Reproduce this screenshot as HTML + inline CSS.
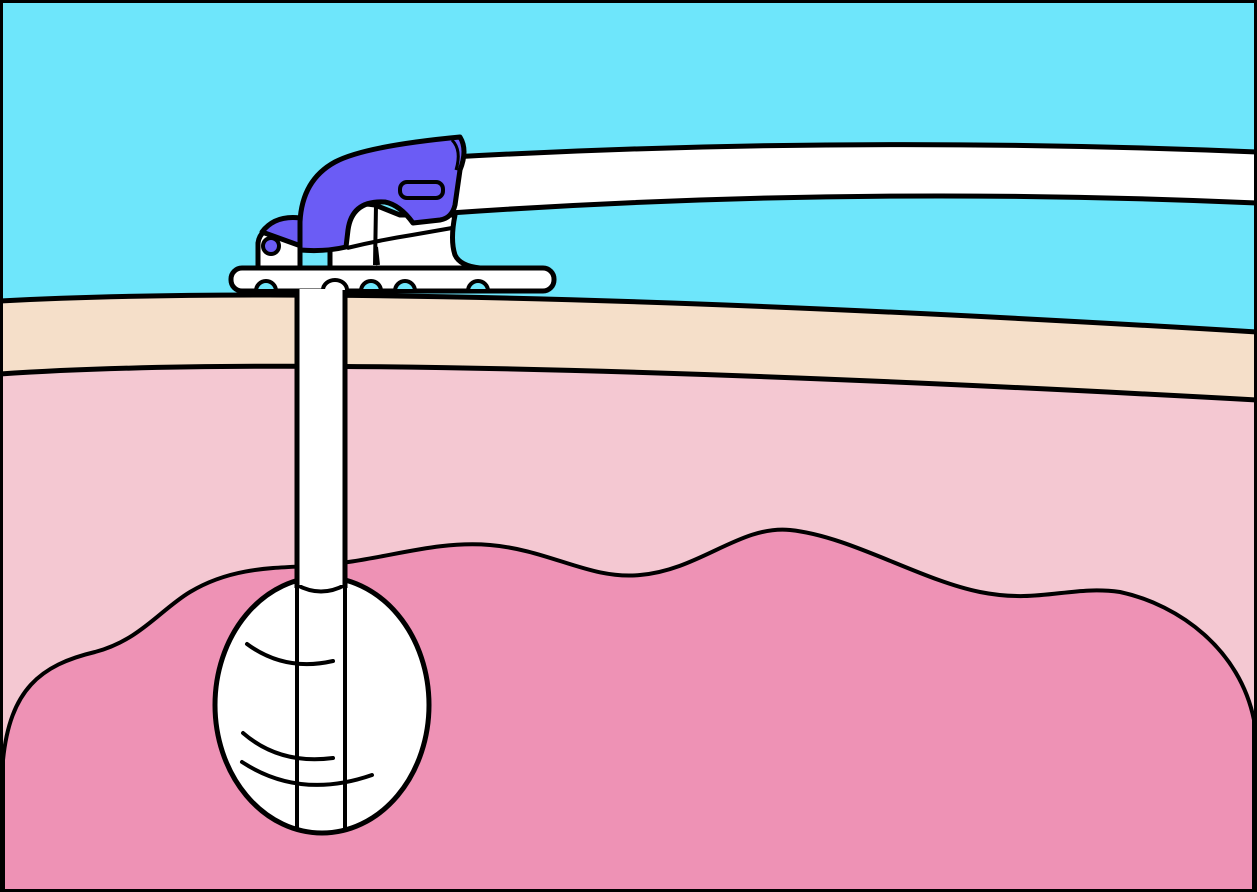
<!DOCTYPE html>
<html><head><meta charset="utf-8"><style>html,body{margin:0;padding:0;background:#fff}svg{display:block}</style></head>
<body>
<svg width="1257" height="892" viewBox="0 0 1257 892" xmlns="http://www.w3.org/2000/svg">
<defs><clipPath id="bal"><ellipse cx="322" cy="705" rx="107" ry="128"/></clipPath></defs>
<rect x="0" y="0" width="1257" height="892" fill="#6ee6fb"/>
<path d="M0 301 Q400 280 1257 332 L1257 892 L0 892 Z" fill="#f5dfc9"/>
<path d="M0 374 Q350 350 1257 400 L1257 892 L0 892 Z" fill="#f4c8d2"/>
<path d="M0 301 Q400 280 1257 332" fill="none" stroke="#000" stroke-width="5"/>
<path d="M0 374 Q350 350 1257 400" fill="none" stroke="#000" stroke-width="5"/>
<path d="M3 760 C10 690 40 665 95 652 C140 640 160 610 190 592 C230 568 270 568 310 566 C380 562 430 540 490 545 C550 550 590 580 640 575 C700 570 740 525 790 530 C850 536 920 580 980 592 C1040 604 1070 585 1120 592 C1180 605 1240 650 1254 720 L1254 892 L3 892 Z" fill="#ee92b5" stroke="#000" stroke-width="4"/>
<path d="M452 157 Q850 135 1257 152 L1257 203 Q850 185 450 213 Z" fill="#fff" stroke="#000" stroke-width="5"/>
<rect x="297" y="283" width="48" height="310" fill="#fff" stroke="#000" stroke-width="5"/>
<ellipse cx="322" cy="705" rx="107" ry="128" fill="#fff" stroke="#000" stroke-width="5"/>
<g clip-path="url(#bal)">
<path d="M297 570 L297 840 M345 570 L345 840" stroke="#000" stroke-width="4" fill="none"/>
</g>
<path d="M297 585 Q321 598 345 585" fill="none" stroke="#000" stroke-width="4"/>
<rect x="299.5" y="560" width="43" height="25" fill="#fff"/>
<path d="M297 560 L297 588 M345 560 L345 588" stroke="#000" stroke-width="5"/>
<path d="M247 644 Q285 672 333 661" fill="none" stroke="#000" stroke-width="4" stroke-linecap="round"/>
<path d="M243 733 Q280 765 333 758" fill="none" stroke="#000" stroke-width="4" stroke-linecap="round"/>
<path d="M242 762 Q300 800 372 775" fill="none" stroke="#000" stroke-width="4" stroke-linecap="round"/>
<!-- device body -->
<path d="M330 268 L330 220 Q345 200 375 205 L400 215 Q430 215 455 215 Q450 240 455 255 Q460 266 480 268 Z" fill="#fff" stroke="#000" stroke-width="5" stroke-linejoin="round"/>
<path d="M347 248 Q380 240 412 235 L452 228" fill="none" stroke="#000" stroke-width="4"/>
<path d="M375 265 L376 205 M376 247 L378 265" stroke="#000" stroke-width="4"/>
<path d="M258 268 L258 243 Q260 228 278 228 L300 230 L300 268 Z" fill="#fff" stroke="#000" stroke-width="5"/>
<path d="M262 232 Q275 215 300 218 L312 250 Z" fill="#6b5cf5" stroke="#000" stroke-width="5" stroke-linejoin="round"/>
<circle cx="271" cy="246" r="8" fill="#6b5cf5" stroke="#000" stroke-width="4"/>
<!-- purple hood -->
<path d="M300 250 L300 222 Q302 180 335 162 Q365 146 460 137 Q468 150 460 170 L455 205 Q452 218 440 220 L413 223 Q400 205 385 202 Q352 200 348 230 L346 247 Q325 252 300 250 Z" fill="#6b5cf5" stroke="#000" stroke-width="5" stroke-linejoin="round"/>
<path d="M452 140 Q462 150 456 170" fill="none" stroke="#000" stroke-width="3"/>
<rect x="400" y="182" width="43" height="16" rx="7" fill="#6b5cf5" stroke="#000" stroke-width="4"/>
<!-- plate -->
<rect x="231" y="268" width="323" height="23" rx="11" fill="#fff" stroke="#000" stroke-width="5"/>
<g fill="#6ee6fb" stroke="#000" stroke-width="4">
<path d="M256 291 A10 10 0 0 1 276 291 Z"/>
<path d="M361 291 A10 10 0 0 1 381 291 Z"/>
<path d="M395 291 A10 10 0 0 1 415 291 Z"/>
<path d="M468 291 A10 10 0 0 1 488 291 Z"/>
</g>
<path d="M323 293 L323 290 A12 10 0 0 1 347 290 L347 293" fill="#fff" stroke="#000" stroke-width="4"/>
<rect x="299.5" y="289" width="43" height="10" fill="#fff"/>
<path d="M297 290 L297 300 M345 290 L345 300" stroke="#000" stroke-width="5"/>
<rect x="1.5" y="1.5" width="1254" height="889" fill="none" stroke="#000" stroke-width="3"/>
</svg>
</body></html>
